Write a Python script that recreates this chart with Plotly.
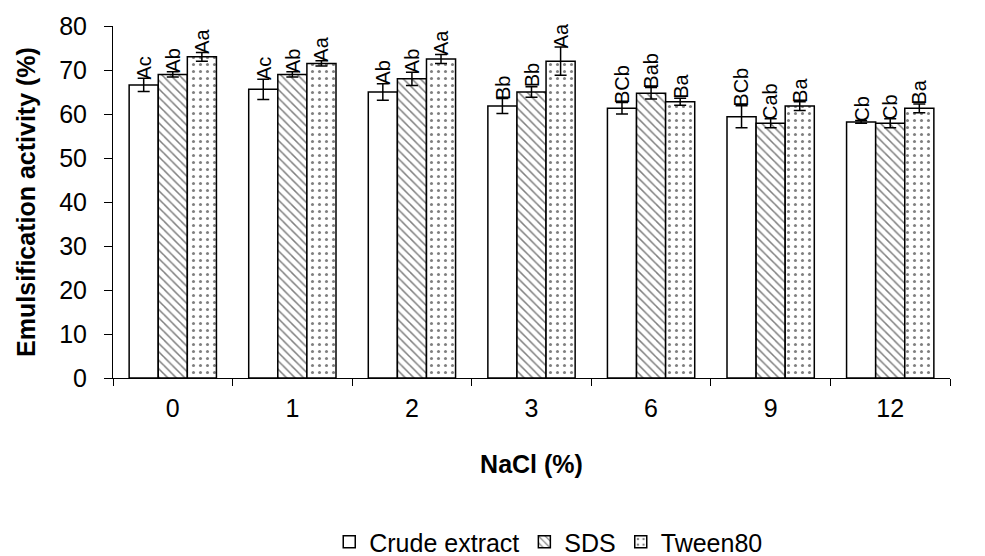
import plotly.graph_objects as go

categories = ["0", "1", "2", "3", "6", "9", "12"]
series_names = ["Crude extract", "SDS", "Tween80"]
crude = [66.6, 65.6, 65.0, 61.8, 61.3, 59.4, 58.2]
crude_err = [1.5, 2.3, 1.9, 1.7, 1.3, 2.5, 0.3]
sds = [69.0, 69.0, 68.0, 65.0, 64.7, 57.9, 57.9]
sds_err = [0.6, 0.6, 1.5, 1.2, 1.3, 1.0, 1.0]
tween = [73.0, 71.5, 72.5, 72.0, 62.8, 61.8, 61.3]
tween_err = [1.0, 0.6, 1.0, 3.2, 0.8, 1.0, 1.0]
crude_lbl = ["Ac", "Ac", "Ab", "Bb", "BCb", "BCb", "Cb"]
sds_lbl = ["Ab", "Ab", "Ab", "Bb", "Bab", "Cab", "Cb"]
tween_lbl = ["Aa", "Aa", "Aa", "Aa", "Ba", "Ba", "Ba"]

values = [crude, sds, tween]
errors = [crude_err, sds_err, tween_err]
labels = [crude_lbl, sds_lbl, tween_lbl]
patterns = ["", "\\", "."]

FONT = "Liberation Sans, Arial, sans-serif"
bargap = 0.27

fig = go.Figure()
for name, vals, errs, pat in zip(series_names, values, errors, patterns):
    fig.add_trace(go.Bar(
        name=name, x=categories, y=vals,
        error_y=dict(type="data", array=errs, color="black", thickness=1.5, width=6),
        marker=dict(color="white", line=dict(color="black", width=1.5),
                    pattern=dict(shape=pat, fgcolor="black", bgcolor="white",
                                 size=6 if pat == "\\" else 7,
                                 solidity=0.25 if pat == "\\" else 0.15)),
    ))

bw = (1 - bargap) / 3
for s, (vals, errs, lbls) in enumerate(zip(values, errors, labels)):
    for i, (v, e, t) in enumerate(zip(vals, errs, lbls)):
        fig.add_annotation(x=i + (s - 1) * bw, y=v + e, text=t, textangle=-90,
                           showarrow=False, xanchor="center", yanchor="bottom",
                           yshift=-3, font=dict(family=FONT, size=20, color="black"))

fig.update_layout(
    width=985, height=556, paper_bgcolor="white", plot_bgcolor="white",
    margin=dict(l=113, r=35, t=24, b=178),
    barmode="group", bargap=bargap, bargroupgap=0,
    font=dict(family=FONT, size=25, color="black"),
    legend=dict(orientation="h", x=0.52, xanchor="center",
                yref="container", y=0.025, yanchor="middle",
                font=dict(family=FONT, size=25), itemwidth=30,
                traceorder="normal"),
    xaxis=dict(type="category", showline=True, linecolor="black", linewidth=1,
               ticks="outside", tickson="boundaries", ticklen=7, tickcolor="black",
               showgrid=False, tickfont=dict(size=25), ticklabelstandoff=8,
               title=dict(text="<b>NaCl (%)</b>", font=dict(size=25), standoff=34)),
    yaxis=dict(range=[0, 80], dtick=10, showline=True, linecolor="black", linewidth=1,
               ticks="outside", ticklen=8, tickcolor="black", showgrid=False,
               zeroline=False, tickfont=dict(size=25), ticklabelstandoff=12,
               title=dict(text="<b>Emulsification activity (%)</b>", font=dict(size=25),
                          standoff=16)),
)

fig.write_html("out.html")
